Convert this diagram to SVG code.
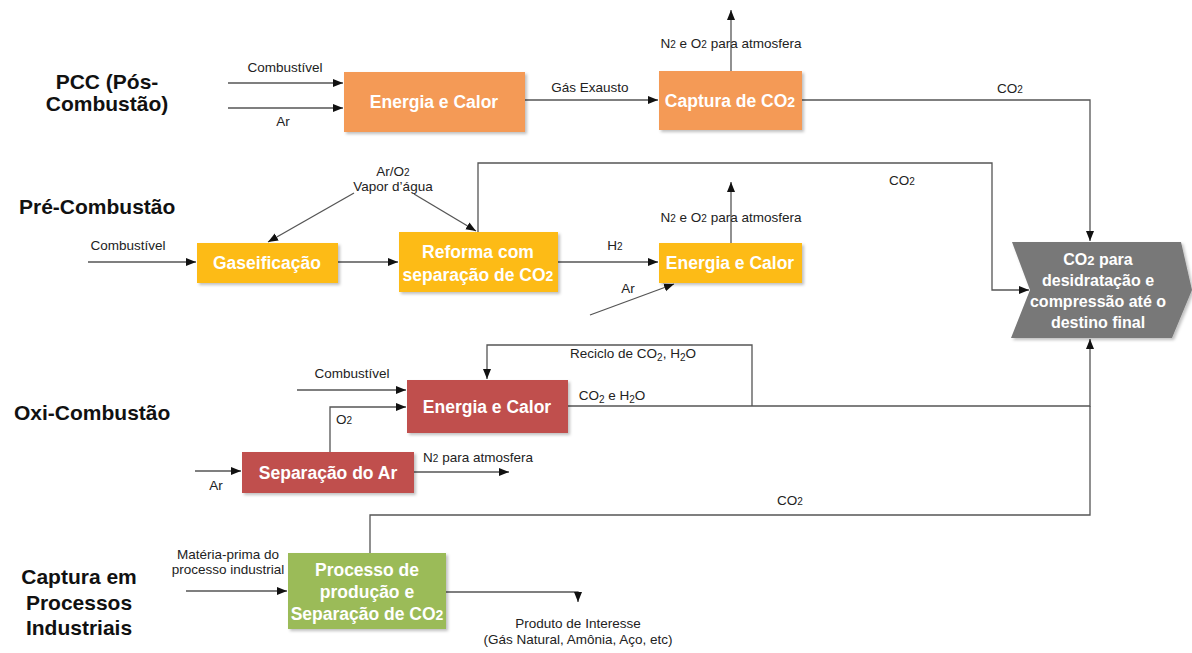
<svg xmlns="http://www.w3.org/2000/svg" width="1192" height="653" viewBox="0 0 1192 653">
<defs>
<style>
.lbl{font-family:"Liberation Sans",Arial,sans-serif;font-size:13.5px;fill:#222;text-anchor:middle}
.ttl{font-family:"Liberation Sans",Arial,sans-serif;font-size:21px;font-weight:bold;fill:#111}
.nt{font-family:"Liberation Sans",Arial,sans-serif;font-size:17.5px;font-weight:bold;fill:#fff;text-anchor:middle}
.gt{font-family:"Liberation Sans",Arial,sans-serif;font-size:16px;font-weight:bold;fill:#fff;text-anchor:middle}
.ln{stroke:#555;stroke-width:1.3;fill:none}
.arr{marker-end:url(#ah)}
.or{fill:#F49A57}
.ye{fill:#FDBB12}
.re{fill:#C0504D}
.gr{fill:#9BBB59}
.sub{font-size:10px}
.nsub{font-size:14px}
</style>
<marker id="ah" viewBox="0 0 10 10" refX="10" refY="5" markerWidth="10" markerHeight="10" markerUnits="userSpaceOnUse" orient="auto">
<path d="M0,1 L10,5 L0,9 z" fill="#111"/>
</marker>
<filter id="sh" x="-10%" y="-10%" width="130%" height="130%">
<feDropShadow dx="2" dy="2" stdDeviation="1.5" flood-color="#000" flood-opacity="0.25"/>
</filter>
</defs>
<rect width="1192" height="653" fill="#fff"/>

<g id="titles">
<text class="ttl" x="107" y="89" text-anchor="middle" font-size="22">PCC (Pós-</text>
<text class="ttl" x="107" y="111" text-anchor="middle" font-size="22">Combustão)</text>
<text class="ttl" x="19" y="214">Pré-Combustão</text>
<text class="ttl" x="14" y="420">Oxi-Combustão</text>
<text class="ttl" x="79" y="584" text-anchor="middle">Captura em</text>
<text class="ttl" x="79" y="610" text-anchor="middle">Processos</text>
<text class="ttl" x="79" y="635" text-anchor="middle">Industriais</text>
</g>

<g id="connectors">
<path class="ln arr" d="M228,83 H343"/>
<path class="ln arr" d="M228,108 H343"/>
<path class="ln arr" d="M525,100 H658"/>
<path class="ln arr" d="M731,71 V10"/>
<path class="ln arr" d="M802,100 H1090 V241"/>
<path class="ln arr" d="M88,262 H196"/>
<path class="ln arr" d="M338,262 H398"/>
<path class="ln arr" d="M354,193 L268,242"/>
<path class="ln arr" d="M414,194 L476,231"/>
<path class="ln arr" d="M478,232 V163 H992 V290 H1029"/>
<path class="ln arr" d="M558,262 H658"/>
<path class="ln arr" d="M731,243 V182"/>
<path class="ln arr" d="M590,315 L674,284"/>
<path class="ln arr" d="M297,390 H406"/>
<path class="ln arr" d="M330,452 V407 H406"/>
<path class="ln arr" d="M195,471 H241"/>
<path class="ln arr" d="M414,472 H509"/>
<path class="ln arr" d="M568,406 H1090 V339"/>
<path class="ln arr" d="M752,406 V345 H487 V379"/>
<path class="ln" d="M370,553 V515 H1090 V406"/>
<path class="ln arr" d="M186,591 H287"/>
<path class="ln arr" d="M446,592 H578 V602"/>

<text class="lbl" x="285" y="72">Combustível</text>
<text class="lbl" x="283" y="126">Ar</text>
<text class="lbl" x="590" y="92">Gás Exausto</text>
<text class="lbl" x="731" y="48">N<tspan class="sub">2</tspan> e O<tspan class="sub">2</tspan> para atmosfera</text>
<text class="lbl" x="1010" y="93">CO<tspan class="sub">2</tspan></text>
<text class="lbl" x="128" y="250">Combustível</text>
<text class="lbl" x="393" y="176">Ar/O<tspan class="sub">2</tspan></text>
<text class="lbl" x="393" y="191">Vapor d’água</text>
<text class="lbl" x="902" y="185">CO<tspan class="sub">2</tspan></text>
<text class="lbl" x="615" y="250">H<tspan class="sub">2</tspan></text>
<text class="lbl" x="731" y="222">N<tspan class="sub">2</tspan> e O<tspan class="sub">2</tspan> para atmosfera</text>
<text class="lbl" x="628" y="293">Ar</text>
<text class="lbl" x="352" y="378">Combustível</text>
<text class="lbl" x="344" y="424">O<tspan class="sub">2</tspan></text>
<text class="lbl" x="216" y="490">Ar</text>
<text class="lbl" x="478" y="462">N<tspan class="sub">2</tspan> para atmosfera</text>
<text class="lbl" x="612" y="400">CO<tspan class="sub" dy="3">2</tspan><tspan dy="-3"> e H</tspan><tspan class="sub" dy="3">2</tspan><tspan dy="-3">O</tspan></text>
<text class="lbl" x="633" y="358">Reciclo de CO<tspan class="sub" dy="3">2</tspan><tspan dy="-3">, H</tspan><tspan class="sub" dy="3">2</tspan><tspan dy="-3">O</tspan></text>
<text class="lbl" x="790" y="505">CO<tspan class="sub">2</tspan></text>
<text class="lbl" x="228" y="559">Matéria-prima do</text>
<text class="lbl" x="228" y="574">processo industrial</text>
<text class="lbl" x="578" y="628">Produto de Interesse</text>
<text class="lbl" x="578" y="644">(Gás Natural, Amônia, Aço, etc)</text>
</g>

<g id="pcc-energia">
<rect class="or" x="344" y="72" width="181" height="60" filter="url(#sh)"/>
<text class="nt" x="434" y="108">Energia e Calor</text>
</g>
<g id="pcc-captura">
<rect class="or" x="659" y="71" width="143" height="59" filter="url(#sh)"/>
<text class="nt" x="730" y="107">Captura de CO<tspan class="nsub">2</tspan></text>
</g>
<g id="pre-gaseificacao">
<rect class="ye" x="197" y="243" width="141" height="40" filter="url(#sh)"/>
<text class="nt" x="267" y="269">Gaseificação</text>
</g>
<g id="pre-reforma">
<rect class="ye" x="399" y="232" width="159" height="60" filter="url(#sh)"/>
<text class="nt" x="478" y="258">Reforma com</text>
<text class="nt" x="478" y="281">separação de CO<tspan class="nsub">2</tspan></text>
</g>
<g id="pre-energia">
<rect class="ye" x="659" y="243" width="143" height="40" filter="url(#sh)"/>
<text class="nt" x="730" y="269">Energia e Calor</text>
</g>
<g id="oxi-energia">
<rect class="re" x="407" y="380" width="161" height="53" filter="url(#sh)"/>
<text class="nt" x="487" y="413">Energia e Calor</text>
</g>
<g id="oxi-separacao">
<rect class="re" x="242" y="452" width="172" height="41" filter="url(#sh)"/>
<text class="nt" x="328" y="479">Separação do Ar</text>
</g>
<g id="ind-processo">
<rect class="gr" x="288" y="553" width="158" height="76" filter="url(#sh)"/>
<text class="nt" x="367" y="576">Processo de</text>
<text class="nt" x="367" y="598">produção e</text>
<text class="nt" x="367" y="620">Separação de CO<tspan class="nsub">2</tspan></text>
</g>
<g id="destino">
<polygon points="1012,242 1181,242 1192,290 1172,338 1011,338 1030,290" fill="#787878" filter="url(#sh)"/>
<text class="gt" x="1098" y="265">CO<tspan font-size="13">2</tspan> para</text>
<text class="gt" x="1098" y="286">desidratação e</text>
<text class="gt" x="1098" y="307">compressão até o</text>
<text class="gt" x="1098" y="328">destino final</text>
</g>
</svg>
